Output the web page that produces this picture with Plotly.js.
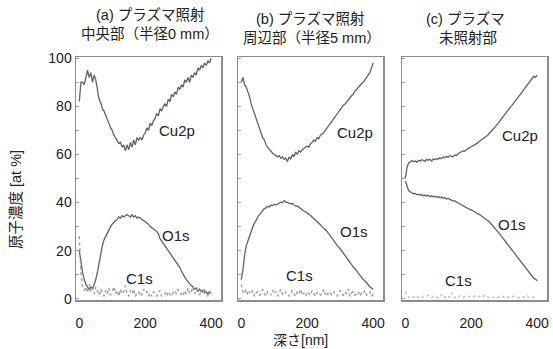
<!DOCTYPE html>
<html><head><meta charset="utf-8">
<script src="https://cdn.plot.ly/plotly-3.0.1.min.js"></script>
<style>html,body{margin:0;padding:0;background:#fff}#chart{width:553px;height:349px}</style>
</head><body><div id="chart"></div>
<script>
// depth [nm]
const depth = [
  0,5,10,15,20,25,30,35,40,45,
  50,55,60,65,70,75,80,85,90,95,
  100,105,110,115,120,125,130,135,140,145,
  150,155,160,165,170,175,180,185,190,195,
  200,205,210,215,220,225,230,235,240,245,
  250,255,260,265,270,275,280,285,290,295,
  300,305,310,315,320,325,330,335,340,345,
  350,355,360,365,370,375,380,385,390,395,
  400];

// (a) plasma irradiated, centre (radius 0 mm)
const cu2pA = [
  82,90,90,89,92,95,92,94,90,93,
  91,86,83,81.5,79,78,76,74.5,73,71,
  70,68,67,66,64.5,65,63,64,61.5,64,
  62,65,63,66,64,67,66,67,66,68,
  69,71,70,73,72,74,75,77,76,79,
  78,80,81,80,83,82,85,84,86,85,
  88,87,89,88,91,90,92,90,93,92,
  94,93,96,95,97,96,98,97,99,98,
  100];
const o1sA = [
  20,15,11,8,6,5,4,5,4,6,
  8,11,15,19,22,24.5,26,27.5,29,30,
  31,32,32.5,33,34,33.5,34.5,34,34.5,35,
  34.5,34,35,34,34.5,33.5,34,33.5,33,32.5,
  32,31.5,31,30,29.5,29,28.5,28,27,25,
  24,23,22,21,20,19,18,17,16,15.5,
  14.5,13,11.5,10,9,8,7,6,5.5,5,
  4,4.5,3,4,3,3.5,2.5,3,2,3,
  2];
const c1sA = [
  26,10,5,3.5,5,2.5,6,3,4.5,2,
  5,3,1.5,4,2.5,1,3.5,2,4.5,1.5,
  3,5,2,3.5,1,4,2,3,5.5,2,
  1,3.5,2,4,1,2.5,3,1,2,4,
  2.5,3,1,2.5,1,3,2,1,2.5,3.5,
  1,2,2.5,1,3,2,1,2.5,3.5,2,
  4,3,2,1,3.5,2,4.5,2,3,5,
  2,4,3,1.5,3.5,2,4.5,2,1,3,
  2];

// (b) plasma irradiated, periphery (radius 5 mm)
const cu2pB = [
  90,92,89,88,86,84,81,79,77,75,
  73,71,69,67,66,64,63,62,61,60.5,
  60,59.5,59,59.5,58.5,59,58,58.5,57,59,
  58,60,59,61,60,61.5,61,62,62.5,63,
  63.5,63,64.5,65,66,65.5,67,66.5,68,68.5,
  69,70,71,72,73,74,74.5,76,77,78,
  78.5,80,80.5,81,82,83,83.5,84.5,85,86.5,
  87,88,88.5,89.5,90,91,92,93,94,96,
  98];
const o1sB = [
  8,12,18,22,24,26.5,28,30,31.5,33,
  34,35,36,36.5,37.5,37.8,38.5,38.2,39,38.7,
  39.3,39,39.5,39.8,40.2,40,40.8,40.3,40,39.8,
  39.5,39.6,39,38.5,38.6,38,37.5,37.2,36.5,36.2,
  35.5,35.2,34.6,34,33.5,33,32.2,31.5,30.8,30,
  29.5,28.8,28,27,26,25,24.2,23.5,22.5,21.5,
  20.8,19.8,19,18,17,16.2,15,14.3,13.2,12.5,
  11.5,10.5,10,9,8,7.5,6.5,6,5,4.5,
  4];
const c1sB = [
  6,3,2,4,1.5,3,2,3.5,1,2.5,
  3,1.5,2,4,2,1,3,2.5,1.5,3.5,
  2,3,1,2.5,4,2,1.5,3,2,1,
  2.5,3.5,2,1,3,2,4,1.5,2.5,1,
  3,2,1.5,3.5,2,1,2.5,3,1.5,2,
  4,2,1,3,2.5,1.5,3,2,1,2.5,
  3.5,2,1.5,3,2,4,1,2.5,3,1.5,
  2,3,1,2.5,2,3.5,1.5,2,3,1,
  2];

// (c) not irradiated
const cu2pC = [
  50,54.5,56.5,56.8,57.5,57,57.3,56.8,57.5,57.2,
  57.8,57.4,57.2,58,57.6,57.9,57.3,58.2,57.8,58.3,
  58,58.6,58.2,59,58.6,59.2,58.8,59.5,59.3,59,
  59.8,59.5,60.3,60.8,61,61.5,61.3,62,62.5,62.8,
  63.2,63.5,64,64.2,64.8,65.5,66,66.3,67,67.5,
  68,68.8,69.5,70.3,71,72,72.6,73.5,74.5,75.5,
  76.3,77,78,79,79.8,80.5,81.5,82.5,83.3,84.5,
  85.3,86,87,88,88.8,89.5,90.5,91.5,92.5,92,
  93];
const o1sC = [
  49,46.5,45,44.5,44,43.6,43.8,43.2,43.5,43,
  43.3,42.8,43.1,42.7,43,42.5,42.8,42.4,42.6,42.2,
  42.5,42,42.3,41.8,42,41.5,41.7,41.2,41,40.6,
  40.8,40.2,39.8,39.5,39,38.6,38.5,38,37.6,37.2,
  37,36.5,36.2,35.8,35.3,35,34.5,34.2,33.6,33,
  32.6,32,31.2,30.5,29.8,29,28,27.2,26.3,25.5,
  24.6,23.8,22.8,22,21,20.2,19.3,18.2,17.3,16.5,
  15.3,14.5,13.5,12.5,11.8,11,10,9.3,8.5,8.2,
  7.5];
const c1sC = [
  3,1,0.5,1,0.3,0.8,0.5,1.2,0.4,0.6,
  0.3,1,0.5,0.8,1.5,0.6,0.4,1,0.5,0.8,
  0.3,0.6,1.8,0.5,0.9,0.4,1.2,0.6,2.5,0.8,
  0.4,1,0.5,1.3,0.6,0.4,0.9,0.5,1.1,0.6,
  0.4,0.8,1.2,0.5,0.7,1,0.4,0.6,1.4,0.5,
  0.8,0.4,1,0.6,0.9,1.3,0.5,0.7,0.4,1,
  0.6,1.2,0.5,0.8,0.4,0.9,1.1,0.5,0.7,0.4,
  1,0.6,0.8,0.5,1.2,0.4,0.7,0.9,0.5,0.6,
  0.8];

const lineCol = '#626262';
const dotCol = '#9a9a9a';
function tr(y, xa, ya, kind){
  const isC = kind === 'c';
  return {x: depth, y: y, xaxis: xa, yaxis: ya, type: 'scatter', mode: 'lines',
    line: isC ? {color: xa==='x3' ? '#c4c4c4' : dotCol, width: 1.4, dash: 'dot'}
              : {color: lineCol, width: 1.3},
    hoverinfo: 'skip', showlegend: false, cliponaxis: true};
}
const data = [
  tr(cu2pA,'x','y'), tr(o1sA,'x','y'), tr(c1sA,'x','y','c'),
  tr(cu2pB,'x2','y2'), tr(o1sB,'x2','y2'), tr(c1sB,'x2','y2','c'),
  tr(cu2pC,'x3','y3'), tr(o1sC,'x3','y3'), tr(c1sC,'x3','y3','c')
];

const FONT = '"Liberation Sans", "Noto Sans CJK JP", sans-serif';
const W = 553, H = 349;
const yDom = [1 - 300/H, 1 - 57/H];
function xax(l, r){
  return {domain: [l/W, r/W], range: [-10, 430], tickvals: [0, 200, 400],
    showgrid: false, zeroline: false, showline: true, mirror: true,
    linecolor: '#8c8c8c', linewidth: 1.5, ticks: '', ticklabelstandoff: 10,
    tickfont: {size: 14, color: '#222', family: FONT}};
}
function yax(anchor, labels){
  return {domain: yDom, anchor: anchor, range: [-0.5, 100.5], dtick: 20,
    showgrid: false, zeroline: false, showline: true, mirror: true,
    linecolor: '#8c8c8c', linewidth: 1.5, ticks: 'inside', ticklen: 3,
    tickcolor: '#9a9a9a', showticklabels: labels,
    minor: {dtick: 10, ticks: 'inside', ticklen: 3, tickcolor: '#9a9a9a'},
    tickfont: {size: 14, color: '#222', family: FONT}};
}
function ann(text, x, y, xref, yref, size, extra){
  return Object.assign({text: text, x: x, y: y, xref: xref, yref: yref, showarrow: false,
    xanchor: 'center', yanchor: 'middle',
    font: {size: size, color: '#222', family: FONT}}, extra || {});
}
const layout = {
  width: W, height: H, margin: {l: 0, r: 0, t: 0, b: 0},
  paper_bgcolor: '#fff', plot_bgcolor: '#fff', font: {family: FONT},
  xaxis: xax(76, 221), xaxis2: Object.assign(xax(238, 383), {anchor: 'y2'}),
  xaxis3: Object.assign(xax(402, 547), {anchor: 'y3'}),
  yaxis: yax('x', true), yaxis2: yax('x2', false), yaxis3: yax('x3', false),
  annotations: [
    ann('Cu2p', 296, 70, 'x', 'y', 15), ann('O1s', 293, 26.5, 'x', 'y', 15), ann('C1s', 184, 8.5, 'x', 'y', 15),
    ann('Cu2p', 345, 69, 'x2', 'y2', 15), ann('O1s', 342, 28, 'x2', 'y2', 15), ann('C1s', 178, 9.5, 'x2', 'y2', 15),
    ann('Cu2p', 348, 68, 'x3', 'y3', 15), ann('O1s', 324, 30.7, 'x3', 'y3', 15), ann('C1s', 160, 7.5, 'x3', 'y3', 15),
    ann('(a) プラズマ照射', 150/W, 1 - 15/H, 'paper', 'paper', 14.5),
    ann('中央部（半径0 mm）', 150/W, 1 - 34/H, 'paper', 'paper', 14.5),
    ann('(b) プラズマ照射', 310/W, 1 - 19/H, 'paper', 'paper', 14.5),
    ann('周辺部（半径5 mm）', 312/W, 1 - 38/H, 'paper', 'paper', 14.5),
    ann('(c) プラズマ', 465/W, 1 - 19/H, 'paper', 'paper', 14.5),
    ann('未照射部', 468/W, 1 - 38/H, 'paper', 'paper', 14.5),
    ann('深さ[nm]', 300/W, 1 - 340/H, 'paper', 'paper', 14),
    ann('原子濃度 [at %]', 16/W, 1 - 200/H, 'paper', 'paper', 14.5, {textangle: -90})
  ]
};
Plotly.newPlot('chart', data, layout, {staticPlot: true, displayModeBar: false});
</script></body></html>
